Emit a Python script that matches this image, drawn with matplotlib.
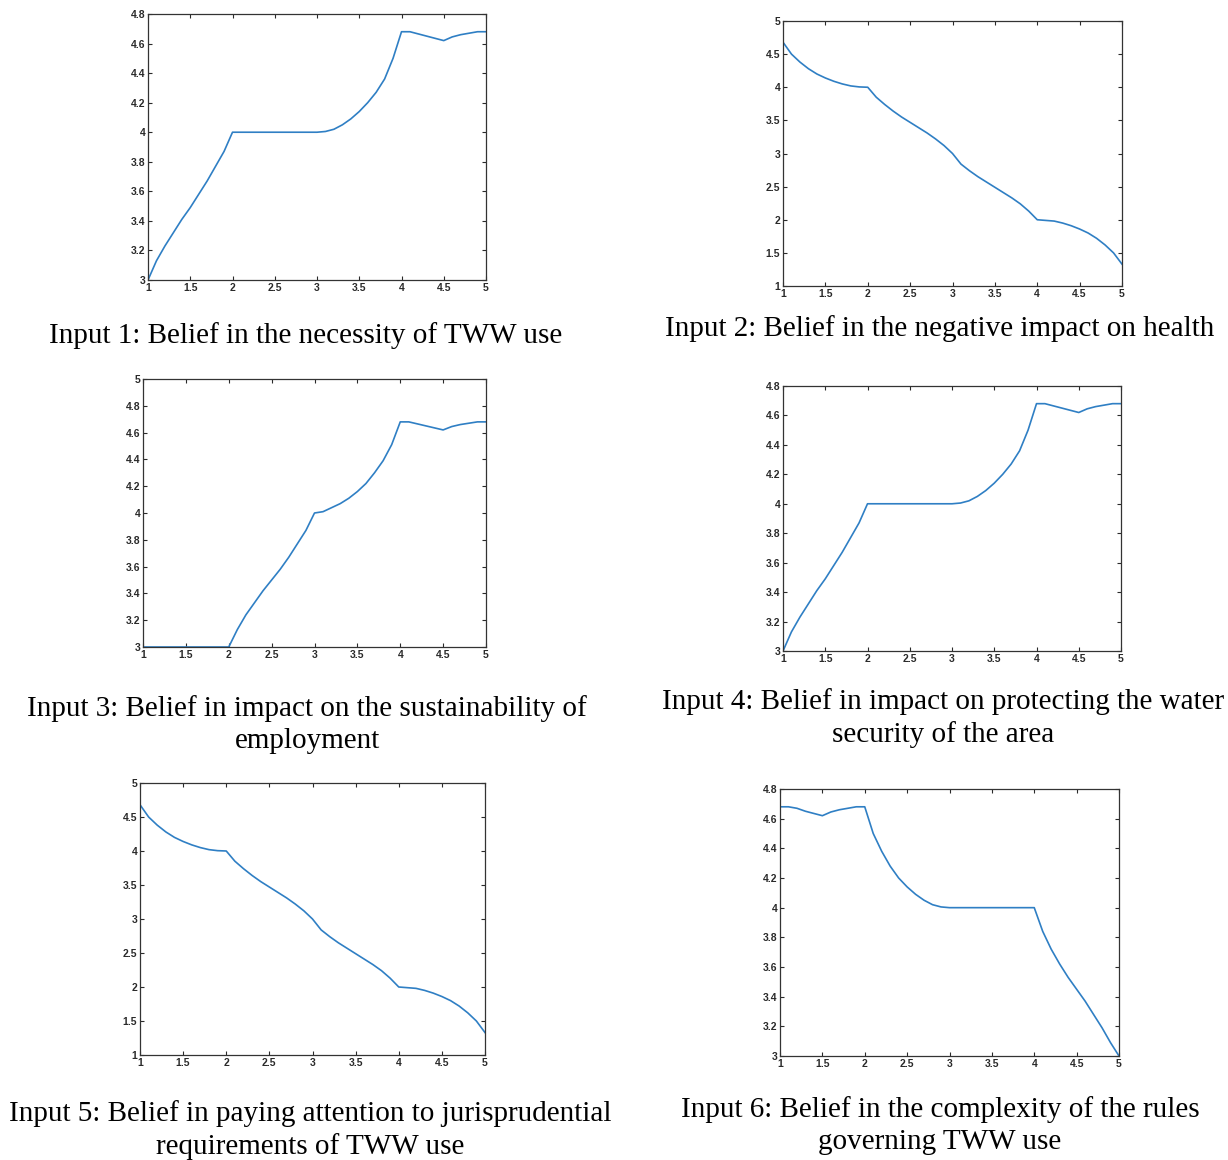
import matplotlib
matplotlib.use('Agg')
import matplotlib.pyplot as plt
import numpy as np

# x grid read at 0.1 steps
x = [1.0, 1.1, 1.2, 1.3, 1.4, 1.5, 1.6, 1.7, 1.8, 1.9,
     2.0, 2.1, 2.2, 2.3, 2.4, 2.5, 2.6, 2.7, 2.8, 2.9,
     3.0, 3.1, 3.2, 3.3, 3.4, 3.5, 3.6, 3.7, 3.8, 3.9,
     4.0, 4.1, 4.2, 4.3, 4.4, 4.5, 4.6, 4.7, 4.8, 4.9, 5.0]

y1 = [3.00, 3.13, 3.23, 3.32, 3.41, 3.49, 3.58, 3.67, 3.77, 3.87,
      4.00, 4.00, 4.00, 4.00, 4.00, 4.00, 4.00, 4.00, 4.00, 4.00,
      4.00, 4.005, 4.02, 4.05, 4.09, 4.14, 4.20, 4.27, 4.36, 4.50,
      4.68, 4.68, 4.665, 4.65, 4.635, 4.62, 4.645, 4.66, 4.67, 4.68, 4.68]

y2 = [4.68, 4.50, 4.38, 4.28, 4.20, 4.14, 4.09, 4.05, 4.02, 4.005,
      4.00, 3.85, 3.74, 3.64, 3.55, 3.47, 3.39, 3.31, 3.22, 3.12,
      3.00, 2.84, 2.74, 2.65, 2.57, 2.49, 2.41, 2.33, 2.24, 2.13,
      2.00, 1.99, 1.98, 1.95, 1.91, 1.86, 1.80, 1.72, 1.62, 1.50, 1.33]

y3 = [3.00, 3.00, 3.00, 3.00, 3.00, 3.00, 3.00, 3.00, 3.00, 3.00,
      3.00, 3.13, 3.24, 3.33, 3.42, 3.50, 3.58, 3.67, 3.77, 3.87,
      4.00, 4.01, 4.04, 4.07, 4.11, 4.16, 4.22, 4.30, 4.39, 4.51,
      4.68, 4.68, 4.665, 4.65, 4.635, 4.62, 4.645, 4.66, 4.67, 4.68, 4.68]

y4 = list(y1)
y5 = list(y2)

y6 = [4.68, 4.68, 4.67, 4.65, 4.635, 4.62, 4.645, 4.66, 4.67, 4.68,
      4.68, 4.50, 4.38, 4.28, 4.20, 4.14, 4.09, 4.05, 4.02, 4.005,
      4.00, 4.00, 4.00, 4.00, 4.00, 4.00, 4.00, 4.00, 4.00, 4.00,
      4.00, 3.84, 3.72, 3.62, 3.53, 3.45, 3.37, 3.28, 3.19, 3.09, 3.00]

series = [y1, y2, y3, y4, y5, y6]

captions = [
    "Input 1: Belief in the necessity of TWW use",
    "Input 2: Belief in the negative impact on health",
    "Input 3: Belief in impact on the sustainability of\nemployment",
    "Input 4: Belief in impact on protecting the water\nsecurity of the area",
    "Input 5: Belief in paying attention to jurisprudential\nrequirements of TWW use",
    "Input 6: Belief in the complexity of the rules\ngoverning TWW use",
]

ylims = [(3, 4.8), (1, 5), (3, 5), (3, 4.8), (1, 5), (3, 4.8)]
yticks = [np.arange(3, 4.81, 0.2), np.arange(1, 5.01, 0.5), np.arange(3, 5.01, 0.2),
          np.arange(3, 4.81, 0.2), np.arange(1, 5.01, 0.5), np.arange(3, 4.81, 0.2)]

W, H = 1228, 1160
# axes boxes in pixels: left, top, right, bottom
boxes = [(148, 14, 486, 280), (783, 21, 1122, 286),
         (143, 379, 486, 647), (783, 386, 1121, 651),
         (140, 783, 485, 1055), (780, 789, 1119, 1056)]
# caption centres in pixels
cap_pos = [(306, 336), (940, 329), (307, 725), (943, 718), (310, 1130), (940, 1126)]

fig = plt.figure(figsize=(W / 100, H / 100), dpi=100)

for i in range(6):
    l, t, r, b = boxes[i]
    ax = fig.add_axes([l / W, 1 - b / H, (r - l) / W, (b - t) / H])
    ax.plot(x, series[i], color='#2f7fc4', lw=1.2)
    ax.set_xlim(1, 5)
    ax.set_ylim(*ylims[i])
    ax.set_xticks([1, 1.5, 2, 2.5, 3, 3.5, 4, 4.5, 5])
    ax.set_xticklabels(['1', '1.5', '2', '2.5', '3', '3.5', '4', '4.5', '5'])
    ax.set_yticks(yticks[i])
    ax.set_yticklabels(['%g' % round(v, 2) for v in yticks[i]])
    ax.tick_params(direction='in', top=True, right=True, length=3, width=0.8,
                   labelsize=7.5, colors='#2a2a2a', pad=2)
    for lab in ax.get_xticklabels() + ax.get_yticklabels():
        lab.set_fontweight('bold')
        lab.set_family('Liberation Sans')
    for s in ax.spines.values():
        s.set_color('#333333')
        s.set_linewidth(0.9)

    cx, cy = cap_pos[i]
    fig.text(cx / W, 1 - cy / H, captions[i], ha='center', va='center',
             family='Liberation Serif', fontsize=21, linespacing=1.3)

fig.savefig('out.png', dpi=100)
